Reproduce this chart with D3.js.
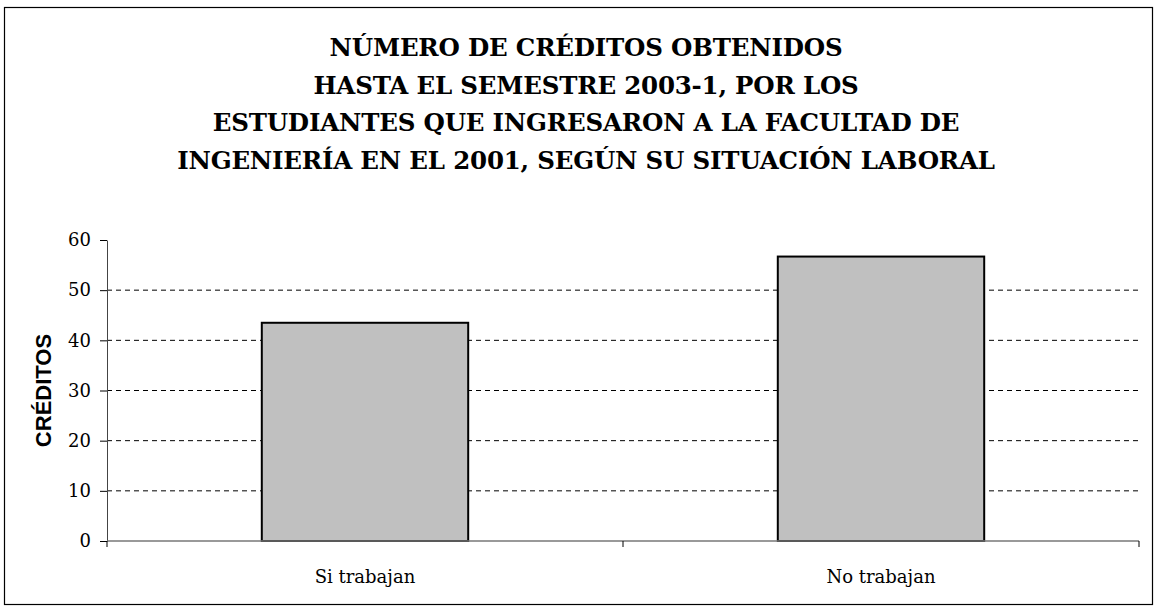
<!DOCTYPE html>
<html>
<head>
<meta charset="utf-8">
<script src="https://cdn.jsdelivr.net/npm/d3@7"></script>
<style>
  body { margin: 0; background: #fff; }
  .serif { font-family: "DejaVu Serif", "Liberation Serif", serif; }
  .sans { font-family: "Liberation Sans", Arial, Helvetica, sans-serif; }
</style>
</head>
<body>
<div class="chart"></div>
<script>
var categories = ['Si trabajan', 'No trabajan'];
var creditos = [43.5, 56.7];
var yTicks = [0, 10, 20, 30, 40, 50, 60];
var titleLines = [
    'NÚMERO DE CRÉDITOS OBTENIDOS',
    'HASTA EL SEMESTRE 2003-1, POR LOS',
    'ESTUDIANTES QUE INGRESARON A LA FACULTAD DE',
    'INGENIERÍA EN EL 2001, SEGÚN SU SITUACIÓN LABORAL'
];
var yLabel = 'CRÉDITOS';

var W = 1159, H = 610;
var margin = { top: 240, right: 20, bottom: 69, left: 107 };
var width = W - margin.left - margin.right;
var height = H - margin.top - margin.bottom;

var root = d3.select('.chart')
    .append('svg')
    .attr('width', W)
    .attr('height', H);

// outer frame
root.append('rect')
    .attr('x', 4.5).attr('y', 7.5)
    .attr('width', 1148).attr('height', 597)
    .style('fill', 'none')
    .style('stroke', '#000')
    .style('stroke-width', 1.2);

// title
root.append('g')
    .attr('class', 'serif')
    .selectAll('text')
    .data(titleLines)
    .enter()
    .append('text')
    .attr('x', 586)
    .attr('y', (d, i) => 56 + i * 37.7)
    .attr('text-anchor', 'middle')
    .style('font-weight', 'bold')
    .style('font-size', '24.5px')
    .style('letter-spacing', '-0.2px')
    .text(d => d);

var svg = root.append('g')
    .attr('transform', `translate(${margin.left}, ${margin.top})`);

var xScale = d3.scaleBand()
    .domain(categories)
    .range([0, width])
    .paddingInner(0.6)
    .paddingOuter(0.3);

var yScale = d3.scaleLinear()
    .domain([0, 60])
    .range([height, 0]);

// dashed gridlines
svg.append('g')
    .selectAll('line')
    .data(yTicks.filter(d => d > 0 && d < 60))
    .enter()
    .append('line')
    .attr('x1', 0).attr('x2', width)
    .attr('y1', d => yScale(d)).attr('y2', d => yScale(d))
    .style('stroke', '#000')
    .style('stroke-width', 1)
    .style('stroke-dasharray', '5,4');

// bars
svg.selectAll('.bar')
    .data(categories)
    .enter()
    .append('rect')
    .attr('class', 'bar')
    .attr('x', d => xScale(d))
    .attr('y', (d, i) => yScale(creditos[i]))
    .attr('width', xScale.bandwidth())
    .attr('height', (d, i) => height - yScale(creditos[i]))
    .style('fill', '#c0c0c0')
    .style('stroke', '#000')
    .style('stroke-width', 2);

// y axis
var yAxis = svg.append('g')
    .call(d3.axisLeft(yScale).tickValues(yTicks).tickSize(7).tickPadding(9).tickSizeOuter(0));
yAxis.attr('font-family', null).attr('class', 'serif');
yAxis.select('.domain').style('stroke', '#444');
yAxis.selectAll('text')
    .style('font-size', '18px')
    .style('fill', '#000');

// x axis: ticks on band boundaries
var boundaries = [0, width / 2, width];
var xAxis = svg.append('g')
    .attr('class', 'serif')
    .attr('transform', `translate(0, ${height})`);
xAxis.append('line')
    .attr('x1', 0).attr('x2', width)
    .style('stroke', '#777')
    .style('stroke-width', 1.5);
xAxis.selectAll('.xtick')
    .data(boundaries)
    .enter()
    .append('line')
    .attr('class', 'xtick')
    .attr('x1', d => d).attr('x2', d => d)
    .attr('y1', 0).attr('y2', 6)
    .style('stroke', '#000');
xAxis.selectAll('.xlabel')
    .data(categories)
    .enter()
    .append('text')
    .attr('class', 'xlabel')
    .attr('x', d => xScale(d) + xScale.bandwidth() / 2)
    .attr('y', 42)
    .attr('text-anchor', 'middle')
    .style('font-size', '18px')
    .text(d => d);

// y axis title
root.append('text')
    .attr('class', 'sans')
    .attr('transform', `translate(51, ${margin.top + height / 2}) rotate(-90)`)
    .attr('text-anchor', 'middle')
    .style('font-weight', 'bold')
    .style('font-size', '22px')
    .text(yLabel);
</script>
</body>
</html>
